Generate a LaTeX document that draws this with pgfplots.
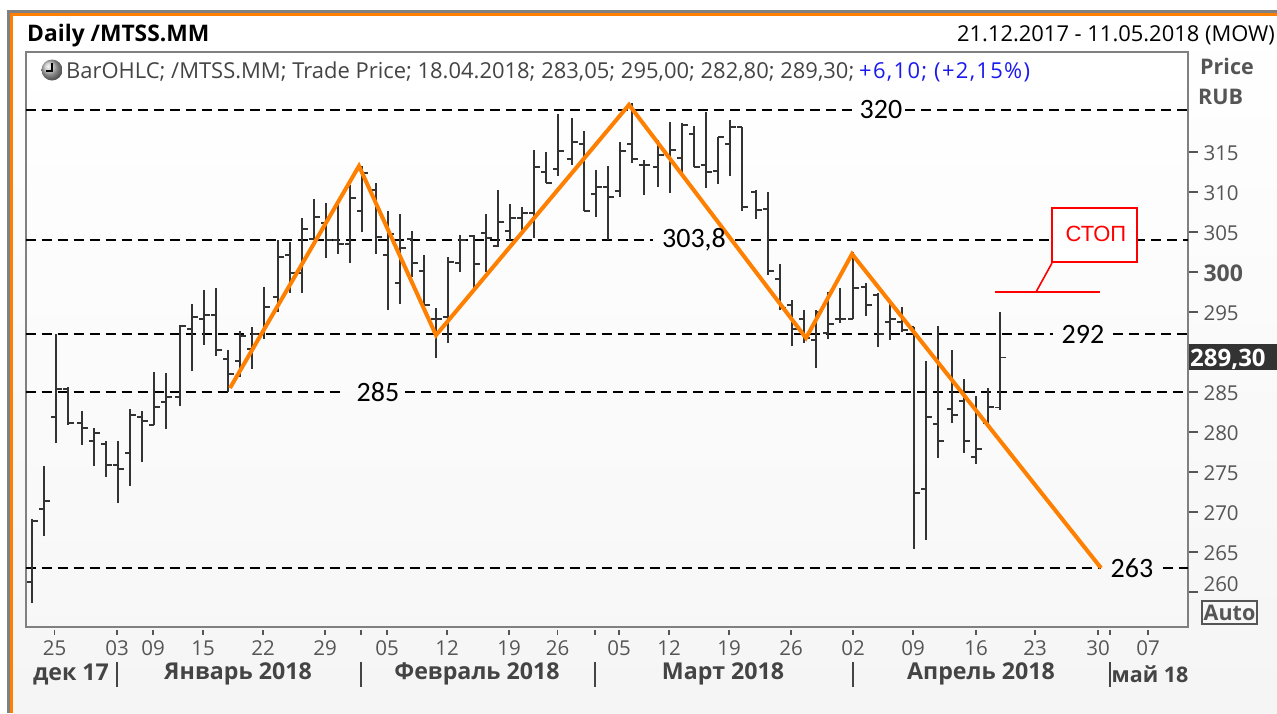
\documentclass[border=0pt]{standalone}
\usepackage{pgfplots}
\usepackage{pgfplotstable}
\usepackage{fontspec}
\pgfplotsset{compat=1.18}
\setmainfont{Open Sans}
\newfontfamily\calib{Carlito}
\newfontfamily\arial{Liberation Sans}
\definecolor{axgray}{HTML}{808080}
\definecolor{txtgray}{HTML}{555555}
\definecolor{bardark}{HTML}{333333}
\definecolor{orng}{HTML}{FF8000}
\definecolor{hdr}{HTML}{444444}
\definecolor{bluetxt}{HTML}{1A1AF0}
\pgfplotstableread{
x open high low close
32 261.25 269.13 258.63 268.9
44 270.4 275.75 267 271.4
56 281.9 292.25 278.6 285.4
68 285.4 285.6 280.9 281.1
82 281.1 282.6 278.4 280.5
94 278.9 280.5 275.75 279.9
106 278.5 278.9 274.4 275.9
118 275.9 278.9 271.1 275.4
130 277.4 282.9 273.25 282.1
142 281.9 282.6 276.25 281.4
154 280.9 287.5 280.9 283.1
166 283.75 287.4 280.4 284.4
180 284.4 293.4 283.25 293.25
192 292.9 296 287.6 294.4
204 294.1 297.75 290.9 294.6
216 294.6 298 289.5 290.25
228 289.1 290.25 285 287.25
240 288.9 292.6 286.9 292
252 290.4 293.1 287.9 292.25
264 292.25 298.1 291.6 295.6
278 296.9 304 295 301.9
290 302.1 303.75 297.4 299.9
302 299.9 306.75 297.4 305.4
314 304.1 309.1 304 306.9
326 306.1 308.6 301.75 304
338 304 308.4 302.25 303.5
350 303.5 310.9 301.1 309.25
362 307.6 313.25 305 312.4
376 310.25 311.1 302.25 304.4
388 302.1 307.6 295.25 304.75
400 298.6 307.25 296 303
412 304.1 305.1 299.4 301.1
424 300.1 302.1 295.75 295.9
436 294.1 295.5 289.25 294.1
448 294.4 301.9 291.1 301.25
460 301.1 304.6 300 304
474 304.5 304.6 297.75 301
486 304.9 307.25 300 304.25
498 303.25 310.25 303.1 306.25
510 305.1 308.5 304 306.75
522 306.75 308.1 305.25 307.4
534 307.4 315.25 304.25 313.1
546 312.5 315 311.1 311.1
558 312.9 319.75 312 315.1
572 314.1 319.25 313.4 316.25
584 316 317.6 307.6 307.6
596 309.75 312.75 306.9 310.6
608 310.6 313.25 304 309.4
620 310.1 316.25 309.4 315.1
632 316 321.1 313.6 314.1
644 313.4 314 309.6 313.4
658 313.1 316.5 310.6 314.6
670 314.6 318.75 309.9 315.25
682 314.25 318.6 312.1 318.4
694 317.25 318.25 313.1 313.1
706 313.4 320 310.5 312.5
718 312.6 316.9 311 316.9
730 316 319 312 318.1
742 318.1 318.1 307.6 308.1
756 310 310.25 306.6 307.75
768 307.9 310 299.6 300.1
780 299.1 301 295.25 295.5
792 295.9 296.5 290.75 292.9
804 294.1 295.25 291.1 291.75
816 291.5 295.25 288 295
828 292.4 297.5 291.6 293.5
840 294.1 298 293.6 294.1
853 294.1 302.5 294.1 298
866 298.1 298.6 294.5 295.9
878 297.1 297.4 290.6 292.25
890 293.75 296.25 291.5 294.1
902 293.75 295.6 292.5 292.75
914 293.1 293.1 265.4 272.4
926 272.9 288.9 266.5 281.9
938 281 293.25 276.75 278.9
952 282.9 290.25 281.1 282.1
964 283.9 286.6 277.4 278.9
976 276.9 284.5 276 277.9
988 281.1 285.5 280.75 283.1
1000 283.05 295 282.8 289.3
}\bars
\pgfplotsset{level/.style={black,line width=1.9pt,dash pattern=on 10pt off 6pt,forget plot}}
\begin{document}
\begin{tikzpicture}[x=1pt,y=-1pt]
\useasboundingbox (0,0) rectangle (1277,713);
\fill[white] (0,0) rectangle (1277,713);
\shade[top color=white,bottom color=black!4,shading angle=0] (12.7,15.6) rectangle (1277,713);
\fill[axgray] (7.3,10) rectangle (1277,12.7);
\fill[axgray] (7.3,10) rectangle (10,713);
\fill[orng] (10,12.7) rectangle (1277,15.6);
\fill[orng] (10,12.7) rectangle (12.7,713);
\shade[top color=white,bottom color=black!3] (25.5,52) rectangle (1188,627);
\begin{axis}[
  at={(25.5pt,-627pt)},anchor=south west,
  scale only axis,width=1162.5pt,height=575pt,
  xmin=25.5,xmax=1188,ymin=255.625,ymax=327.5,
  axis line style={axgray,line width=2pt},
  xtick={54.7,117,153,203,263,325,387,447,509,557.5,619,669,729,791,853,913,976,1035,1098,1148},
  xticklabels={25,03,09,15,22,29,05,12,19,26,05,12,19,26,02,09,16,23,30,07},
  ytick={260,265,270,275,280,285,295,300,305,310,315},
  yticklabels={\raisebox{18pt}{260},265,270,275,280,285,295,{\fontsize{23}{24}\selectfont\bfseries 300},305,310,315},
  ytick pos=right,xtick pos=bottom,
  tick align=outside,major tick length=10pt,
  y tick style={draw=txtgray,line width=1.5pt},
  x tick style={draw=none},
  y tick label style={anchor=west,xshift=2pt,yshift=-1pt,text=txtgray,font=\fontsize{20.5}{24}\selectfont},
  x tick label style={anchor=center,yshift=-11pt,text=txtgray,font=\fontsize{20.5}{24}\selectfont},
  clip=false,
]
\addplot[level] coordinates {(25.5,320.25)(855,320.25)};
\addplot[level] coordinates {(905,320.25)(1188,320.25)};
\addplot[level] coordinates {(25.5,304)(653,304)};
\addplot[level] coordinates {(735,304)(1188,304)};
\addplot[level] coordinates {(25.5,292.25)(1053,292.25)};
\addplot[level] coordinates {(1113,292.25)(1188,292.25)};
\addplot[level] coordinates {(25.5,285)(345,285)};
\addplot[level] coordinates {(405,285)(1188,285)};
\addplot[level] coordinates {(25.5,263)(1101,263)};
\addplot[level] coordinates {(1163,263)(1188,263)};
\addplot[draw=none,mark=none,forget plot,error bars/.cd,y dir=plus,y explicit,error mark=none,
  error bar style={draw=bardark,line width=2.2pt,solid}]
  table[x=x,y=low,y error expr=\thisrow{high}-\thisrow{low}] {\bars};
\addplot[draw=none,mark=none,forget plot,error bars/.cd,x dir=minus,x fixed=5.5,error mark=none,
  error bar style={draw=bardark,line width=1.6pt,solid}]
  table[x=x,y=open] {\bars};
\addplot[draw=none,mark=none,forget plot,error bars/.cd,x dir=plus,x fixed=5.5,error mark=none,
  error bar style={draw=bardark,line width=1.6pt,solid}]
  table[x=x,y=close] {\bars};
\addplot[orng,line width=4pt,line join=miter,forget plot] coordinates {
 (230,285.5)(359,313.25)(436,292.1)(629,320.9)(806,291.75)(852,302.25)(1101,263)};
\node[font=\calib\fontsize{28}{30}\selectfont,text=black] at (axis cs:881,320.25) {320};
\node[font=\calib\fontsize{28}{30}\selectfont,text=black] at (axis cs:694,304) {303,8};
\node[font=\calib\fontsize{28}{30}\selectfont,text=black] at (axis cs:1083,292.25) {292};
\node[font=\calib\fontsize{28}{30}\selectfont,text=black] at (axis cs:378,285) {285};
\node[font=\calib\fontsize{28}{30}\selectfont,text=black] at (axis cs:1132,263) {263};
\end{axis}
% x ticks, set off from the axis
\foreach \t in {54.7,117,153,203,263,325,361,387,447,509,557.5,595,619,669,729,791,853,913,976,1035,1098,1110,1148}
  \draw[txtgray,line width=1.3pt] (\t,630) -- (\t,635);
% month row
\foreach \t in {117,361,595,853,1110}
  \draw[hdr,line width=1.4pt] (\t,662) -- (\t,687);
\begin{scope}[every node/.style={font=\bfseries\fontsize{23.2}{26}\selectfont,text=hdr}]
\node at (71,674) {дек 17};
\node at (238,674) {Январь 2018};
\node at (477,674) {Февраль 2018};
\node at (723,674) {Март 2018};
\node at (981,674) {Апрель 2018};
\node[font=\bfseries\fontsize{21.5}{26}\selectfont,text=hdr] at (1150,674) {май 18};
\end{scope}
% header
\node[anchor=base west,inner sep=0,font=\bfseries\fontsize{22.8}{26}\selectfont,text=black] at (27,41) {Daily /MTSS.MM};
\node[anchor=base east,inner sep=0,font=\fontsize{21.9}{26}\selectfont,text=black] at (1275,41) {21.12.2017 - 11.05.2018 (MOW)};
\shade[ball color=black!25] (52,70) circle (10.5);
\draw[black,line width=1.6pt] (52,63) -- (52,71) -- (46,71);
\node[anchor=base west,inner sep=0,font=\fontsize{21.95}{26}\selectfont,text=hdr] at (66,78) {BarOHLC; /MTSS.MM; Trade Price; 18.04.2018; 283,05; 295,00; 282,80; 289,30;};
\node[anchor=base west,inner sep=0,font=\fontsize{21.95}{26}\selectfont\addfontfeature{LetterSpace=6},text=bluetxt] at (859,78) {+6,10; (+2,15\%)};
% right column
\node[anchor=base west,inner sep=0,font=\bfseries\fontsize{21.5}{26}\selectfont,text=txtgray] at (1200,74) {Price};
\node[anchor=base west,inner sep=0,font=\bfseries\fontsize{21.5}{26}\selectfont,text=txtgray] at (1198,104) {RUB};
\fill[bardark] (1189,344) rectangle (1277,370);
\node[anchor=base west,inner sep=0,font=\bfseries\fontsize{24}{26}\selectfont,text=white] at (1190,366) {289,30};
\draw[txtgray,line width=2pt,fill=black!3] (1201.5,601) rectangle (1257,624);
\node[font=\bfseries\fontsize{21.5}{24}\selectfont,text=txtgray] at (1229.5,613) {Auto};
% stop annotation
\draw[red,line width=1.8pt] (995,292) -- (1100,292);
\draw[red,line width=1.6pt] (1036,292) -- (1052,263);
\draw[red,line width=1.8pt,fill=white] (1052,208) rectangle (1137,262);
\node[font=\arial\fontsize{22}{24}\selectfont,text=red] at (1096,234) {СТОП};
\end{tikzpicture}
\end{document}
